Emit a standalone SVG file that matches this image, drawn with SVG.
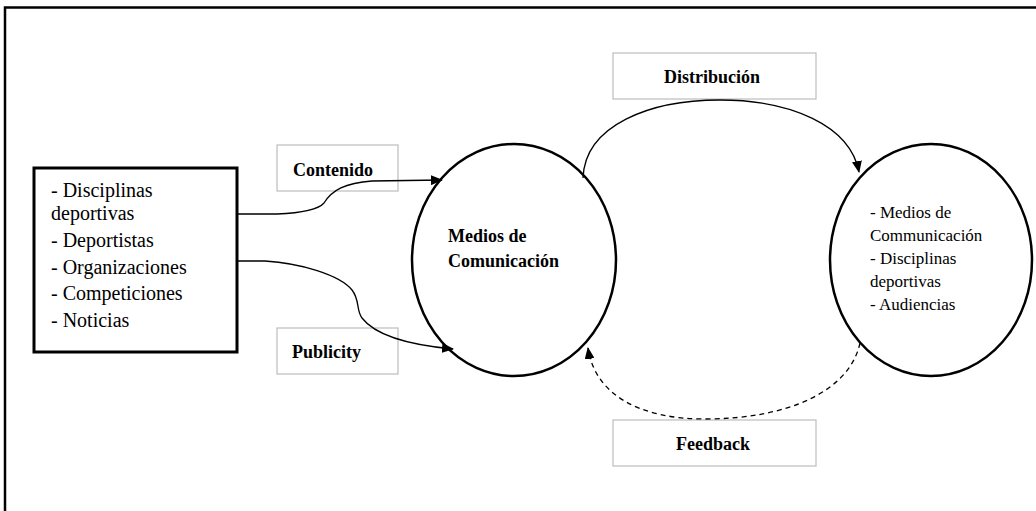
<svg xmlns="http://www.w3.org/2000/svg" width="1036" height="511" viewBox="0 0 1036 511">
<defs>
<marker id="arr" markerWidth="12" markerHeight="10" refX="11" refY="5" orient="auto" markerUnits="userSpaceOnUse">
<path d="M0,0 L12,5 L0,10 Z" fill="#000"/>
</marker>
<style>
.lbl{fill:#fff;stroke:#bdbdbd;stroke-width:1.2}
.bt{font-family:"Liberation Serif","Times New Roman",serif;font-weight:bold;font-size:18px;fill:#000}
.rt{font-family:"Liberation Serif","Times New Roman",serif;font-size:20px;fill:#000}
.ct{font-family:"Liberation Serif","Times New Roman",serif;font-size:17px;fill:#000}
.con{fill:none;stroke:#000;stroke-width:1.3}
.ell{fill:#fff;stroke:#000;stroke-width:2.5}
</style>
</defs>
<rect width="1036" height="511" fill="#fff"/>
<path d="M5,511 V7.5 H1036" fill="none" stroke="#000" stroke-width="2.5"/>

<g id="sources">
<rect x="34" y="168" width="203" height="184" fill="#fff" stroke="#000" stroke-width="3"/>
<text class="rt" x="51" y="197">- Disciplinas</text>
<text class="rt" x="51" y="220">deportivas</text>
<text class="rt" x="51" y="247">- Deportistas</text>
<text class="rt" x="51" y="274">- Organizaciones</text>
<text class="rt" x="51" y="300">- Competiciones</text>
<text class="rt" x="51" y="327">- Noticias</text>
</g>

<g id="medios">
<ellipse class="ell" cx="514" cy="260" rx="102" ry="116"/>
<text class="bt" x="448" y="242">Medios de</text>
<text class="bt" x="448" y="267">Comunicación</text>
</g>

<g id="destinos">
<ellipse class="ell" cx="931" cy="260" rx="101" ry="116"/>
<text class="ct" x="870" y="218">- Medios de</text>
<text class="ct" x="870" y="241">Communicación</text>
<text class="ct" x="870" y="264">- Disciplinas</text>
<text class="ct" x="870" y="287">deportivas</text>
<text class="ct" x="870" y="310">- Audiencias</text>
</g>

<g id="contenido">
<rect class="lbl" x="277" y="145" width="121" height="46"/>
<text class="bt" x="293" y="176">Contenido</text>
</g>

<g id="publicity">
<rect class="lbl" x="277" y="328" width="121" height="46"/>
<text class="bt" x="292" y="358">Publicity</text>
</g>

<g id="distribucion">
<rect class="lbl" x="613" y="53" width="203" height="46"/>
<text class="bt" x="664" y="83">Distribución</text>
</g>

<g id="feedback">
<rect class="lbl" x="613" y="420" width="203" height="46"/>
<text class="bt" x="676" y="450">Feedback</text>
</g>

<g id="connectors">
<path class="con" d="M237,214 L277,214 C300,213 318,210 324,203 C332,190 345,183 372,181 L442,180" marker-end="url(#arr)"/>
<path class="con" d="M237,261 L265,261 C300,263 340,275 352,290 C360,300 356,310 362,318 C375,335 410,345 453,349" marker-end="url(#arr)"/>
<path class="con" d="M583,178 C585,125 650,100 720,100 C790,100 850,125 859,172" marker-end="url(#arr)"/>
<path class="con" d="M860,343 C850,390 790,419 705,419 C640,419 595,395 588,348" stroke-dasharray="5,4" marker-end="url(#arr)"/>
</g>
</svg>
